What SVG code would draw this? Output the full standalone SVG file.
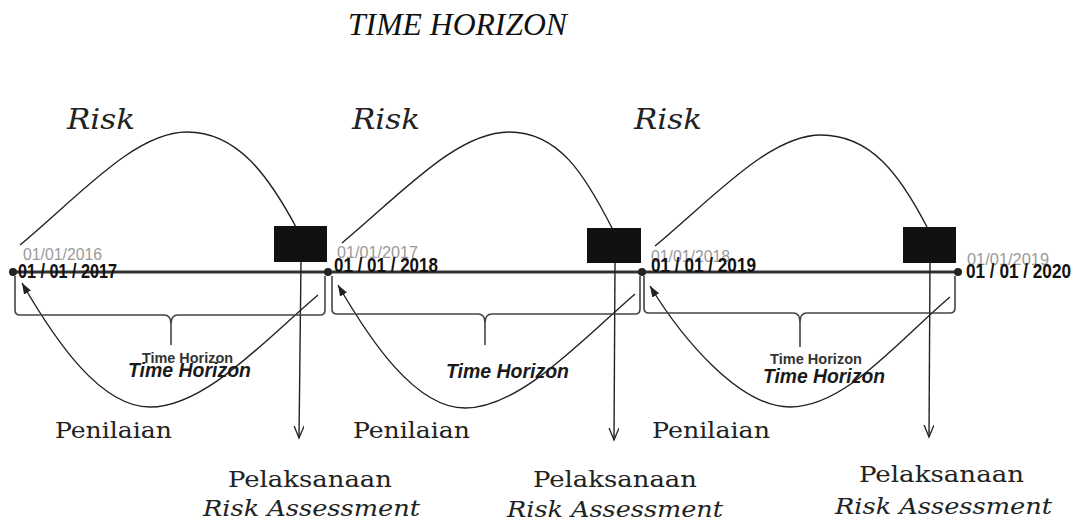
<svg xmlns="http://www.w3.org/2000/svg" width="1084" height="522" viewBox="0 0 1084 522">
<style>
.title{font-family:"Liberation Serif",serif;font-style:italic;font-size:31px;fill:#111}
.risk{font-family:"DejaVu Serif","Liberation Serif",serif;font-style:italic;font-size:27px;fill:#222}
.lbl{font-family:"DejaVu Serif","Liberation Serif",serif;font-size:23px;fill:#222}
.lbli{font-family:"DejaVu Serif","Liberation Serif",serif;font-style:italic;font-size:23px;fill:#222}
.date{font-family:"Liberation Sans",Arial,sans-serif;font-weight:bold;font-size:21px;fill:#111}
.old{font-family:"Liberation Sans",Arial,sans-serif;font-size:17px;fill:#9a9a9a}
.ths{font-family:"Liberation Sans",Arial,sans-serif;font-weight:bold;font-size:15px;fill:#333}
.thb{font-family:"Liberation Sans",Arial,sans-serif;font-weight:bold;font-style:italic;font-size:21px;fill:#1a1a1a}
.box{fill:#111}
.arc{fill:none;stroke:#222;stroke-width:1.4}
.brk{fill:none;stroke:#444;stroke-width:1.6}
.tl{stroke:#333;stroke-width:2.8}
.dot{fill:#222}
</style>
<defs>
<marker id="fa" markerUnits="userSpaceOnUse" markerWidth="12" markerHeight="10" refX="11" refY="4" orient="auto"><path d="M0,0 L11,4 L0,8 z" fill="#222"/></marker>
<marker id="oa" markerUnits="userSpaceOnUse" markerWidth="14" markerHeight="12" refX="12" refY="5" orient="auto"><path d="M0,0 L12,5 L0,10" fill="none" stroke="#222" stroke-width="1.3"/></marker>
</defs>
<rect width="1084" height="522" fill="#fff"/>

<g id="title"><text class="title" x="348" y="35" textLength="219" lengthAdjust="spacingAndGlyphs">TIME HORIZON</text></g>

<g id="connectors">
  <line class="tl" x1="13" y1="272" x2="958" y2="272"/>
  <path class="arc" d="M20,245 C80,195 135,132 187,132 C237,132 268,175 296,227"/>
  <path class="arc" d="M342,243 C402,193 457,132 509,132 C559,132 585,175 612,228"/>
  <path class="arc" d="M655,246 C715,196 770,135 821,135 C871,135 900,175 927,227"/>
  <path class="arc" d="M318,295 C265,340 205,407 150,407 C100,407 55,340 22,283" marker-end="url(#fa)"/>
  <path class="arc" d="M635,294 C582,340 520,408 465,408 C415,408 370,340 338,285" marker-end="url(#fa)"/>
  <path class="arc" d="M950,297 C897,342 845,407 790,407 C740,407 683,340 650,286" marker-end="url(#fa)"/>
  <line class="arc" x1="301" y1="262" x2="299" y2="438" marker-end="url(#oa)"/>
  <line class="arc" x1="615" y1="263" x2="614" y2="440" marker-end="url(#oa)"/>
  <line class="arc" x1="930" y1="263" x2="929" y2="437" marker-end="url(#oa)"/>
  <path class="brk" d="M15,276 V310 Q15,315 20,315 H164 Q171,315 171,324 V345 M171,324 Q171,315 178,315 H320 Q325,315 325,310 V276"/>
  <path class="brk" d="M332,276 V309 Q332,314 337,314 H478 Q485,314 485,323 V345 M485,323 Q485,314 492,314 H635 Q640,314 640,309 V276"/>
  <path class="brk" d="M644,276 V308 Q644,313 649,313 H793 Q800,313 800,322 V347 M800,322 Q800,313 807,313 H950 Q955,313 955,308 V276"/>
</g>

<g id="dates">
  <text class="old" x="23" y="260" textLength="79" lengthAdjust="spacingAndGlyphs">01/01/2016</text>
  <text class="old" x="337" y="258" textLength="81" lengthAdjust="spacingAndGlyphs">01/01/2017</text>
  <text class="old" x="651" y="262" textLength="79" lengthAdjust="spacingAndGlyphs">01/01/2018</text>
  <text class="old" x="967" y="265" textLength="82" lengthAdjust="spacingAndGlyphs">01/01/2019</text>
  <circle class="dot" cx="13" cy="272" r="4"/>
  <circle class="dot" cx="328" cy="272" r="4"/>
  <circle class="dot" cx="642" cy="272" r="4"/>
  <circle class="dot" cx="958" cy="272" r="4"/>
  <text class="date" x="18" y="278" textLength="99" lengthAdjust="spacingAndGlyphs">01 / 01 / 2017</text>
  <text class="date" x="334" y="272" textLength="104" lengthAdjust="spacingAndGlyphs">01 / 01 / 2018</text>
  <text class="date" x="651" y="272" textLength="105" lengthAdjust="spacingAndGlyphs">01 / 01 / 2019</text>
  <text class="date" x="966" y="278" textLength="105" lengthAdjust="spacingAndGlyphs">01 / 01 / 2020</text>
</g>

<g id="seg1">
  <rect class="box" x="274" y="226" width="53" height="36"/>
  <text class="risk" x="67" y="129" textLength="68" lengthAdjust="spacingAndGlyphs">Risk</text>
  <text class="ths" x="142" y="363" textLength="91" lengthAdjust="spacingAndGlyphs">Time Horizon</text>
  <text class="thb" x="128" y="377" textLength="123" lengthAdjust="spacingAndGlyphs">Time Horizon</text>
  <text class="lbl" x="55" y="438" textLength="117" lengthAdjust="spacingAndGlyphs">Penilaian</text>
  <text class="lbl" x="228" y="487" textLength="164" lengthAdjust="spacingAndGlyphs">Pelaksanaan</text>
  <text class="lbli" x="203" y="516" textLength="217" lengthAdjust="spacingAndGlyphs">Risk Assessment</text>
</g>

<g id="seg2">
  <rect class="box" x="587" y="228" width="54" height="35"/>
  <text class="risk" x="352" y="129" textLength="68" lengthAdjust="spacingAndGlyphs">Risk</text>
  <text class="thb" x="446" y="378" textLength="123" lengthAdjust="spacingAndGlyphs">Time Horizon</text>
  <text class="lbl" x="353" y="438" textLength="117" lengthAdjust="spacingAndGlyphs">Penilaian</text>
  <text class="lbl" x="533" y="487" textLength="164" lengthAdjust="spacingAndGlyphs">Pelaksanaan</text>
  <text class="lbli" x="507" y="517" textLength="216" lengthAdjust="spacingAndGlyphs">Risk Assessment</text>
</g>

<g id="seg3">
  <rect class="box" x="903" y="227" width="53" height="36"/>
  <text class="risk" x="634" y="129" textLength="68" lengthAdjust="spacingAndGlyphs">Risk</text>
  <text class="ths" x="770" y="364" textLength="92" lengthAdjust="spacingAndGlyphs">Time Horizon</text>
  <text class="thb" x="763" y="383" textLength="122" lengthAdjust="spacingAndGlyphs">Time Horizon</text>
  <text class="lbl" x="652" y="438" textLength="118" lengthAdjust="spacingAndGlyphs">Penilaian</text>
  <text class="lbl" x="859" y="482" textLength="165" lengthAdjust="spacingAndGlyphs">Pelaksanaan</text>
  <text class="lbli" x="835" y="514" textLength="217" lengthAdjust="spacingAndGlyphs">Risk Assessment</text>
</g>
</svg>
